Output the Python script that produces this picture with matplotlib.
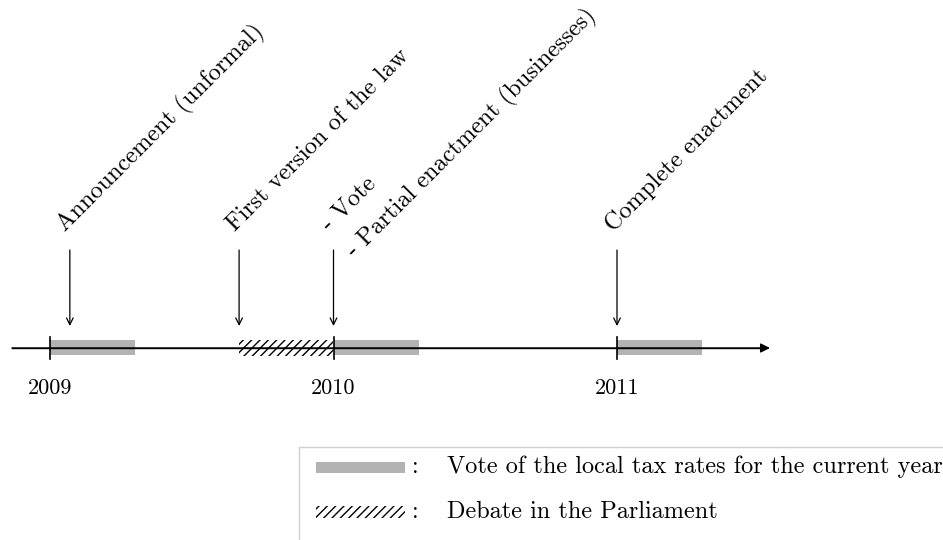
import matplotlib.pyplot as plt
from matplotlib.patches import Rectangle

plt.rcParams['font.family'] = ['cmr10', 'DejaVu Serif']
plt.rcParams['hatch.linewidth'] = 1.0

# timeline data (years)
years = [2009, 2010, 2011]
vote_start = [2009, 2010, 2011]
vote_len = 0.3
debate_start = 2009.667
debate_end = 2010.0

event_x = [2009.07, 2009.667, 2010.0, 2011.0]
event_labels = ["Announcement (unformal)", "First version of the law",
                "- Vote", "Complete enactment"]
extra_label = "- Partial enactment (businesses)"

legend_labels = ["Vote of the local tax rates for the current year",
                 "Debate in the Parliament"]

gray = '#b3b3b3'

fig = plt.figure(figsize=(9.43, 5.4), dpi=100)
ax = fig.add_axes([0, 0, 1, 1])
ppy = 283.5  # pixels per year
x0 = 2009 - 50 / ppy
ax.set_xlim(x0, x0 + 943 / ppy)
ax.set_ylim(-192, 348)
ax.axis('off')

def px(p):
    return x0 + p / ppy

# main axis with arrow
ax.annotate('', xy=(px(770), 0), xytext=(px(12), 0),
            arrowprops=dict(arrowstyle='-|>', color='black', lw=1,
                            mutation_scale=14, shrinkA=0, shrinkB=0))

# vote bars and debate
for s in vote_start:
    ax.add_patch(Rectangle((s, -7), vote_len, 15, facecolor=gray,
                           edgecolor='none', zorder=1))
ax.add_patch(Rectangle((debate_start, -8), debate_end - debate_start, 16,
                       facecolor='white', edgecolor='black', lw=0,
                       hatch='////', zorder=1))
ax.plot([px(12), px(760)], [0, 0], color='black', lw=1, zorder=2)

# year ticks and labels
for y in years:
    ax.plot([y, y], [-11, 11], color='black', lw=1.2, zorder=3)
    ax.text(y, -40, str(y), ha='center', va='center', fontsize=16)

# event arrows and labels
for x, lab in zip(event_x, event_labels):
    ax.annotate('', xy=(x, 22), xytext=(x, 98),
                arrowprops=dict(arrowstyle='->', color='black', lw=0.9,
                                mutation_scale=12, shrinkA=0, shrinkB=0))
    ax.text(x - 4 / ppy, 116, lab, rotation=45, rotation_mode='anchor',
            ha='left', va='baseline', fontsize=17.5)
ax.text(event_x[2] + 22 / ppy, 90, extra_label, rotation=45,
        rotation_mode='anchor', ha='left', va='baseline', fontsize=17.5)

# legend box
ax.add_patch(Rectangle((px(299), -200), px(960) - px(299), 300 - 200 + 1,
                       facecolor='white', edgecolor='#d0d0d0', lw=1))
ax.add_patch(Rectangle((px(316), 348 - 473), 89 / ppy, 11,
                       facecolor=gray, edgecolor='none'))
ax.add_patch(Rectangle((px(316), 348 - 518), 89 / ppy, 12,
                       facecolor='white', edgecolor='black', lw=0,
                       hatch='////'))
for yy, lab in zip([348 - 467, 348 - 512], legend_labels):
    ax.text(px(412), yy, ':', ha='left', va='center', fontsize=17.5)
    ax.text(px(447), yy, lab, ha='left', va='center', fontsize=17.5)

fig.savefig('out.png', dpi=100)
